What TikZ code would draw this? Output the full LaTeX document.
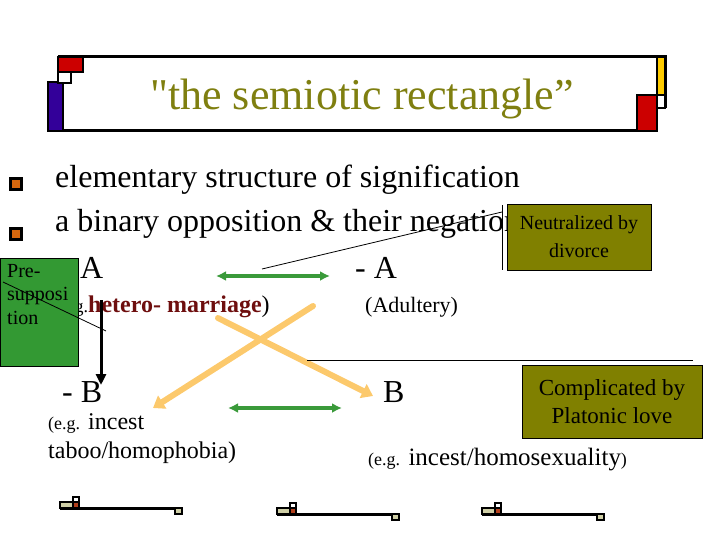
\documentclass[tikz,border=0pt]{standalone}
\usepackage{fontspec}
\setmainfont{Liberation Serif}
\newfontfamily\plainquote{Liberation Serif}
\usetikzlibrary{arrows.meta,positioning}
\definecolor{oliveText}{HTML}{7F7F10}
\definecolor{oliveBox}{HTML}{808000}
\definecolor{presupGreen}{HTML}{339933}
\definecolor{arrowGreen}{HTML}{3A9A3A}
\definecolor{crossYellow}{HTML}{FCC96C}
\definecolor{heteroRed}{HTML}{6E0E0E}
\definecolor{frameBlue}{HTML}{330099}
\definecolor{frameRed}{HTML}{CC0000}
\definecolor{frameYellow}{HTML}{FFCC00}
\definecolor{bulletOrange}{HTML}{D9690F}
\definecolor{decoBeige}{HTML}{CFCFA6}
\definecolor{decoRed}{HTML}{B3401C}
\newcommand\egsize{\fontsize{18}{22}\selectfont}
\tikzset{
  titletext/.style={anchor=base, inner sep=0pt, text=oliveText,
    font=\fontsize{44}{50}\selectfont},
  bodytext/.style={anchor=base west, inner sep=0pt,
    font=\fontsize{32}{38}\selectfont},
  exampletext/.style={anchor=base west, inner sep=0pt, align=left,
    font=\fontsize{24}{29}\selectfont},
  bulletbox/.style={draw=black, line width=3.5pt, fill=bulletOrange,
    minimum size=11pt, inner sep=0pt},
  notebox/.style={draw=black, line width=0.8pt, fill=oliveBox, inner sep=0pt,
    align=center},
  presupbox/.style={draw=black, line width=0.8pt, fill=presupGreen,
    minimum width=78pt, minimum height=108pt, inner sep=0pt},
  %% connectors
  oppArrow/.style={{Latex[length=10pt,width=10pt]}-{Latex[length=10pt,width=10pt]},
    line width=4pt, arrowGreen},
  crossArrow/.style={-{Triangle[length=11pt,width=15pt]}, line width=6pt,
    crossYellow, line cap=round},
  impArrow/.style={-{Triangle[length=11pt,width=10pt]}, line width=3pt, black},
  thinline/.style={line width=0.8pt, black},
  framebar/.style={draw=black, line width=2.5pt},
}

\begin{document}
\begin{tikzpicture}[x=1pt, y=-1pt]
\useasboundingbox (0,0) rectangle (720,540);

%% title frame
\draw[line width=3pt] (58,57) -- (665,57) -- (665,108);
\draw[line width=3pt] (48,131) -- (657,131);
\filldraw[framebar, fill=frameBlue]   (48,82)  rectangle (63,131);
\filldraw[framebar, fill=frameRed]    (58,57)  rectangle (83,72);
\filldraw[framebar, fill=white]       (58,72)  rectangle (71,83);
\filldraw[framebar, fill=frameYellow] (657,57) rectangle (665,95);
\filldraw[framebar, fill=frameRed]    (637,95) rectangle (657,131);
\filldraw[framebar, fill=white]       (657,95) rectangle (665,108);
\node[titletext] (title) at (362,110) {{\plainquote"}the semiotic rectangle”};

%% bullets
\node[bulletbox] (bulA) at (16,184) {};
\node[bulletbox] (bulB) at (16,234) {};
\node[bodytext] (lineA) at (55,188) {elementary structure of signification};
\node[bodytext] (lineB) at (55,232) {a binary opposition \& their negation};

%% the four terms
\node[bodytext] (termA)    at (80,278)  {A};
\node[bodytext] (termNotA) at (355,278) {- A};
\node[bodytext] (termNotB) at (62,402)  {- B};
\node[bodytext] (termB)    at (383,402) {B};

\node[exampletext] (egA) at (56,312)
  {{\egsize(e.g.}\textbf{\textcolor{heteroRed}{hetero- marriage}})};
\node[exampletext, font=\fontsize{22}{28}\selectfont] (egNotA) at (365,312) {(Adultery)};
\node[exampletext] (egNotB) at (48,458)
  {{\egsize(e.g.} incest\\taboo/homophobia)};
\node[exampletext, font=\fontsize{25}{29}\selectfont] (egB) at (368,465)
  {{\egsize(e.g.} incest/homosexuality{\egsize)}};

%% side notes
\node[presupbox] (presup) at (39,312) {};
\node[anchor=north west, align=left, inner sep=0pt,
  font=\fontsize{20}{23.5}\selectfont] (presupText) at (7,264) {Pre-\\supposi\\tion};
\node[notebox, minimum width=144pt, minimum height=66pt,
  font=\fontsize{20}{28}\selectfont] (neutral) at (579,237) {Neutralized by\\divorce};
\node[notebox, minimum width=180pt, minimum height=73pt,
  font=\fontsize{23}{28}\selectfont] (platonic) at (612,401.5) {Complicated by\\Platonic love};

%% connectors
\coordinate (oppTopL) at (216,276);
\coordinate (oppTopR) at (330,276);
\coordinate (oppBotL) at (228,408);
\coordinate (oppBotR) at (342,408);
\coordinate (crossNE) at (313,306);
\coordinate (crossSW) at (153,408);
\coordinate (crossNW) at (218,318);
\coordinate (crossSE) at (373,396);
\coordinate (impTop)  at (101,300);
\coordinate (impBot)  at (101,385);
\draw[oppArrow] (oppTopL) -- (oppTopR);
\draw[oppArrow] (oppBotL) -- (oppBotR);
\draw[crossArrow] (crossNE) -- (crossSW);
\draw[crossArrow] (crossNW) -- (crossSE);
\draw[impArrow] (impTop) -- (impBot);

\coordinate (neutFoot) at (262,269);
\coordinate (neutHead) at (502,212);
\draw[thinline] (neutFoot) -- (neutHead);
\draw[thinline] (502,205) -- (502,270);
\draw[thinline] (307,360) -- (693,360);
\coordinate (presupFoot) at (3,282);
\coordinate (presupHead) at (106,331);
\draw[thinline] (presupFoot) -- (presupHead);

%% footer marks
\foreach \dx/\dy in {0/0, 217/6, 422/6}{
  \begin{scope}[shift={(\dx,\dy)}]
    \draw[line width=3pt] (60,508) -- (178,508);
    \filldraw[draw=black, line width=1.2pt, fill=decoBeige] (60,502) rectangle (73,508);
    \filldraw[draw=black, line width=1.2pt, fill=decoRed] (73,502) rectangle (79,508);
    \filldraw[draw=black, line width=1.2pt, fill=white] (73,497) rectangle (79,502);
    \filldraw[draw=black, line width=1.5pt, fill=decoBeige] (175,508) rectangle (182,514);
  \end{scope}
}
\end{tikzpicture}
\end{document}
